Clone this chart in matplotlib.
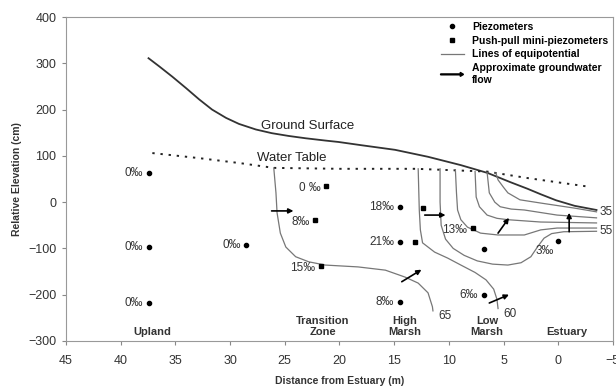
import matplotlib
matplotlib.use("Agg")
import matplotlib.pyplot as plt
import matplotlib.patches as mpatches
from matplotlib.lines import Line2D
from matplotlib.legend_handler import HandlerPatch

plt.rcParams['font.family'] = ['Liberation Sans', 'DejaVu Sans']

# ground surface and water table (distance m, elevation cm)
ground_x = [37.45, 36.45, 35.27, 34.0, 32.82, 31.64, 30.36, 29.18, 27.64, 26.18, 24.64,
            23.09, 21.27, 20.09, 18.0, 14.91, 11.91, 8.91, 6.45, 4.36, 2.82, 1.6, 0.2,
            -1.5, -3.5]
ground_y = [311, 293, 271, 246, 222, 200, 182, 169, 157, 149, 143,
            138, 133, 130, 123, 113, 98, 80, 63, 43, 29, 17, 4,
            -8, -17]
water_x = [37.1, 32.8, 29.0, 26.0, 20.0, 13.0, 6.5, 2.8, -2.9]
water_y = [106, 95, 84, 74, 72, 72, 66, 52, 33]

# lines of equipotential
equi_labels = ["65", "60", "55", "50", "45", "40", "35"]
equi_x = [
    [26.0, 25.8, 25.7, 25.4, 24.9, 24.0, 22.8, 21.3, 18.3, 15.8, 14.0, 12.8, 11.9, 11.5, 11.45],
    [12.8, 12.7, 12.6, 12.4, 11.3, 10.1, 8.9, 7.6, 6.6, 5.9, 5.6, 5.5],
    [10.8, 10.8, 10.7, 10.3, 9.6, 8.6, 7.4, 6.0, 4.6, 3.4, 2.5, 1.9, 1.3, 0.6, -0.5, -3.5],
    [9.4, 9.3, 9.2, 8.9, 8.3, 7.1, 5.5, 3.1, 1.6, 0.1, -3.5],
    [7.6, 7.5, 7.2, 6.5, 5.6, 4.6, 1.6, -3.5],
    [6.5, 6.3, 5.8, 5.3, 4.3, 3.1, 0.1, -3.5],
    [5.7, 5.5, 5.0, 4.6, 3.5, 1.6, -1.5, -3.5],
]
equi_y = [
    [74, 20, -23, -67, -97, -118, -129, -136, -140, -147, -162, -175, -196, -226, -235],
    [72, -17, -60, -88, -108, -121, -136, -152, -168, -188, -210, -230],
    [72, 0, -50, -80, -100, -115, -127, -134, -136, -131, -118, -97, -78, -68, -64, -63],
    [70, 20, -17, -38, -54, -67, -71, -71, -60, -56, -56],
    [66, 11, -10, -28, -35, -38, -43, -45],
    [64, 20, 0, -10, -15, -17, -28, -34],
    [63, 48, 32, 20, 5, -2, -13, -21],
]

# piezometers (circles) and push-pull mini-piezometers (squares)
piezo_x = [37.45, 37.45, 37.45, 28.5, 14.5, 14.5, 14.5, 6.8, 6.8, 0.0]
piezo_y = [63, -97, -218, -93, -10, -86, -215, -101, -200, -84]
piezo_lab = ["0‰", "0‰", "0‰", "0‰", "18‰", "21‰", "8‰", "", "6‰", "3‰"]
push_x = [21.2, 22.2, 21.7, 12.4, 13.1, 7.8]
push_y = [35, -38, -138, -13, -86, -55]
push_lab = ["0 ‰", "8‰", "15‰", "", "", "13‰"]

# approximate groundwater flow arrows
arrow_x0 = [26.2, 12.2, 14.3, 6.3, 5.5, -1.0]
arrow_y0 = [-19, -28, -172, -218, -67, -64]
arrow_x1 = [24.2, 10.3, 12.5, 4.5, 4.5, -1.0]
arrow_y1 = [-19, -28, -146, -200, -34, -23]

zones = ["Upland", "Transition\nZone", "High\nMarsh", "Low\nMarsh", "Estuary"]
zone_x = [37.1, 21.5, 14.0, 6.5, -0.8]
zone_y = -291

xticks = [45, 40, 35, 30, 25, 20, 15, 10, 5, 0, -5]
yticks = [400, 300, 200, 100, 0, -100, -200, -300]

fig = plt.figure(figsize=(6.16, 3.87), dpi=100)
ax = fig.add_axes([0.107, 0.119, 0.888, 0.837])

ax.plot(ground_x, ground_y, color='#333333', lw=1.3)
ax.plot(water_x, water_y, color='#222222', lw=1.4, linestyle=(0, (1.2, 3)))
ax.text(22.9, 164, "Ground Surface", fontsize=9.5, ha='center', va='center', color='#222222')
ax.text(24.4, 96, "Water Table", fontsize=9.5, ha='center', va='center', color='#222222')

for xs, ys in zip(equi_x, equi_y):
    ax.plot(xs, ys, color='#777777', lw=0.9)
for lab, xs, ys in zip(equi_labels, equi_x, equi_y):
    if lab in ("65", "60"):
        ax.annotate(lab, (xs[-1], ys[-1]), xytext=(4, -4), textcoords='offset points',
                    fontsize=8.5, ha='left', va='center', color='#333333')
    elif lab in ("35", "55"):
        ax.annotate(lab, (xs[-1], ys[-1]), xytext=(2, 0), textcoords='offset points',
                    fontsize=8.5, ha='left', va='center', color='#333333')

ax.plot(piezo_x, piezo_y, 'o', color='black', ms=3, ls='none')
ax.plot(push_x, push_y, 's', color='black', ms=3.5, ls='none')
for x, y, lab in zip(piezo_x, piezo_y, piezo_lab):
    if lab == "3‰":
        ax.annotate(lab, (x, y), xytext=(-3, -7), textcoords='offset points',
                    fontsize=8.5, ha='right', va='center', color='#333333')
    elif lab:
        ax.annotate(lab, (x, y), xytext=(-4, 0), textcoords='offset points',
                    fontsize=8.5, ha='right', va='center', color='#333333')
for x, y, lab in zip(push_x, push_y, push_lab):
    if lab:
        ax.annotate(lab, (x, y), xytext=(-4, -1.5), textcoords='offset points',
                    fontsize=8.5, ha='right', va='center', color='#333333')

for x0, y0, x1, y1 in zip(arrow_x0, arrow_y0, arrow_x1, arrow_y1):
    ax.annotate('', xy=(x1, y1), xytext=(x0, y0),
                arrowprops=dict(arrowstyle='-|>', color='black', lw=1.2,
                                mutation_scale=7, shrinkA=0, shrinkB=0))

for zx, zl in zip(zone_x, zones):
    ax.text(zx, zone_y, zl, fontsize=8, fontweight='bold', ha='center', va='bottom',
            color='#333333', linespacing=1.15)


def make_arrow(legend, orig_handle, xdescent, ydescent, width, height, fontsize):
    return mpatches.FancyArrow(0, 0.5 * height, width, 0, length_includes_head=True,
                               width=0.12 * height, head_width=0.55 * height,
                               head_length=0.45 * height)


handles = [
    Line2D([], [], marker='o', color='black', ms=3, ls='none'),
    Line2D([], [], marker='s', color='black', ms=3.5, ls='none'),
    Line2D([], [], color='#777777', lw=0.9),
    mpatches.FancyArrow(0, 0, 1, 0, color='black'),
]
labels = ["Piezometers", "Push-pull mini-piezometers", "Lines of equipotential",
          "Approximate groundwater\nflow"]
leg = ax.legend(handles, labels, loc='upper left', bbox_to_anchor=(0.685, 0.985),
                frameon=False, prop={'weight': 'bold', 'size': 7.5}, handlelength=2.2,
                handletextpad=0.8, labelspacing=0.35, borderpad=0, borderaxespad=0,
                handler_map={mpatches.FancyArrow: HandlerPatch(patch_func=make_arrow)})
for t in leg.get_texts():
    t.set_linespacing(1.3)

ax.set_xlim(45, -4.8)
ax.set_ylim(-300, 400)
ax.set_xticks(xticks)
ax.set_yticks(yticks)
ax.tick_params(labelsize=9, length=3, color='#888888', labelcolor='#333333', pad=4)
ax.tick_params(axis='x', pad=7)
for s in ax.spines.values():
    s.set_color('#999999')
    s.set_linewidth(0.8)
ax.set_xlabel("Distance from Estuary (m)", fontsize=7.5, fontweight='bold', color='#333333')
ax.set_ylabel("Relative Elevation (cm)", fontsize=7.5, fontweight='bold', color='#333333')
ax.xaxis.set_label_coords(0.5, -0.108)
ax.yaxis.set_label_coords(-0.08, 0.5)

fig.savefig("out.png", dpi=100)
